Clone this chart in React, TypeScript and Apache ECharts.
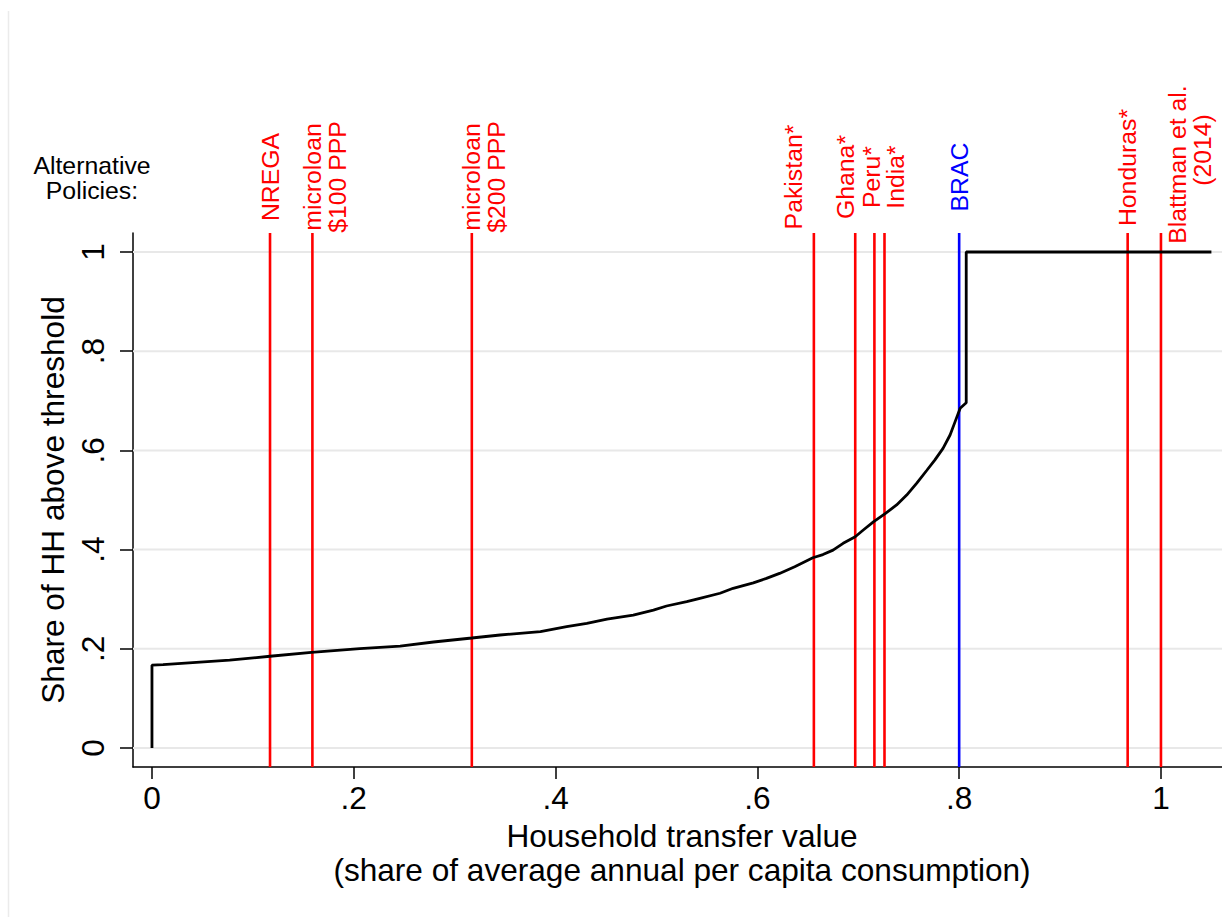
import React, { useEffect, useRef } from 'react';
import * as echarts from 'echarts';

// ---- data ----
const curveX = [0, 0, 0.011, 0.077, 0.117, 0.158, 0.206, 0.246, 0.279, 0.317, 0.345, 0.385, 0.411, 0.431, 0.451, 0.477, 0.497, 0.51, 0.53, 0.543, 0.563, 0.576, 0.596, 0.609, 0.622, 0.637, 0.655, 0.665, 0.675, 0.685, 0.697, 0.705, 0.715, 0.727, 0.738, 0.748, 0.758, 0.768, 0.776, 0.784, 0.791, 0.796, 0.801, 0.807, 0.807, 1.05];
const curveY = [0, 0.167, 0.168, 0.177, 0.185, 0.193, 0.2005, 0.2056, 0.2137, 0.2218, 0.2278, 0.2345, 0.2446, 0.2514, 0.26, 0.268, 0.278, 0.2863, 0.295, 0.3017, 0.312, 0.322, 0.333, 0.342, 0.352, 0.3656, 0.3835, 0.39, 0.399, 0.4126, 0.426, 0.4395, 0.456, 0.473, 0.49, 0.51, 0.534, 0.56, 0.581, 0.604, 0.631, 0.658, 0.685, 0.696, 1.0, 1.0];

const policyValues = [0.117, 0.159, 0.317, 0.656, 0.697, 0.716, 0.726, 0.8, 0.967, 1.0];
const policyLabels = ['NREGA', 'microloan\n$100 PPP', 'microloan\n$200 PPP', 'Pakistan*', 'Ghana*', 'Peru*', 'India*', 'BRAC', 'Honduras*', 'Blattman et al.\n(2014)'];
const policyIsBrac = [false, false, false, false, false, false, false, true, false, false];

const tickValues = [0, 0.2, 0.4, 0.6, 0.8, 1];
const tickLabels = ['0', '.2', '.4', '.6', '.8', '1'];
const gridValues = [0, 0.2, 0.4, 0.6, 0.8, 1];

const xTitle = 'Household transfer value\n(share of average annual per capita consumption)';
const yTitle = 'Share of HH above threshold';
const sideTitle = 'Alternative\nPolicies:';

// ---- layout / style ----
const X_MIN = -0.0188;
const X_MAX = 1.0605;
const Y_MIN = -0.0383;
const Y_MAX = 1.0383;
const FONT = '"Liberation Sans", Arial, Helvetica, sans-serif';
const BIG = 31.6;
const SMALL = 24.8;
const LABEL_GAP = 56; // distance from plot top to label centre
const LABEL_LINE = 25;
// per-label pixel nudges (label placement as in the original figure)
const labelTweaks: Record<number, { dx: number; dy: number[] }> = {
  3: { dx: -20, dy: [0] },
  4: { dx: -10, dy: [0] },
  5: { dx: -2.5, dy: [0] },
  6: { dx: 11, dy: [0] },
  8: { dx: 0, dy: [-9.5] },
  9: { dx: 17, dy: [-12.5, -27] },
};

function fmtTick(v: number): string {
  const i = tickValues.findIndex((t) => Math.abs(t - v) < 1e-9);
  return i >= 0 ? tickLabels[i] : '';
}

export default function App() {
  const ref = useRef<HTMLDivElement>(null);
  useEffect(() => {
    if (!ref.current) return;
    const chart = echarts.init(ref.current, null, { renderer: 'svg' });
    const option: any = {
      animation: false,
      backgroundColor: '#ffffff',
      grid: { left: 133, right: 0, top: 233, bottom: 150, containLabel: false },
      xAxis: {
        type: 'value',
        min: X_MIN,
        max: X_MAX,
        name: xTitle,
        nameLocation: 'middle',
        nameGap: 51,
        nameTextStyle: { color: '#000', fontSize: BIG, fontFamily: FONT, lineHeight: 34, padding: [0, 0, 0, 9] },
        axisLine: { show: true, onZero: false, lineStyle: { color: '#000', width: 1.5 } },
        axisTick: { show: true, customValues: tickValues, length: 12, lineStyle: { color: '#000', width: 1.5 } },
        axisLabel: { show: true, customValues: tickValues, formatter: fmtTick, margin: 15, color: '#000', fontSize: BIG, fontFamily: FONT, lineHeight: 32 },
        splitLine: { show: false },
      },
      yAxis: {
        type: 'value',
        min: Y_MIN,
        max: Y_MAX,
        name: yTitle,
        nameLocation: 'middle',
        nameGap: 42,
        nameTextStyle: { color: '#000', fontSize: BIG, fontFamily: FONT, lineHeight: 32 },
        axisLine: { show: true, onZero: false, lineStyle: { color: '#000', width: 1.5 } },
        axisTick: { show: true, customValues: tickValues, length: 13, lineStyle: { color: '#000', width: 1.5 } },
        axisLabel: { show: true, customValues: tickValues, formatter: fmtTick, rotate: 90, margin: 24, color: '#000', fontSize: BIG, fontFamily: FONT, lineHeight: 32 },
        splitLine: { show: false },
      },
      graphic: [
        {
          type: 'line',
          shape: { x1: 8.5, y1: 11, x2: 8.5, y2: 917 },
          style: { stroke: '#ebebeb', lineWidth: 1.5 },
          silent: true,
        },
        {
          type: 'text',
          x: 92,
          y: 178,
          style: {
            text: sideTitle,
            fill: '#000',
            font: `${SMALL}px ${FONT}`,
            fontSize: SMALL,
            fontFamily: FONT,
            lineHeight: 25,
            align: 'center',
            verticalAlign: 'middle',
            textAlign: 'center',
            textVerticalAlign: 'middle',
          },
          silent: true,
        },
      ],
      series: [
        {
          type: 'custom',
          name: 'grid',
          z: 1,
          silent: true,
          clip: false,
          data: gridValues.map((v) => [X_MIN, v]),
          encode: { x: 0, y: 1 },
          renderItem: (params: any, api: any) => {
            const v = api.value(1);
            const a = api.coord([X_MIN, v]);
            const b = api.coord([X_MAX, v]);
            return {
              type: 'line',
              shape: { x1: a[0], y1: a[1], x2: b[0], y2: b[1] },
              style: { stroke: '#e8e8e8', lineWidth: 2 },
            };
          },
        },
        {
          type: 'custom',
          name: 'policies',
          z: 2,
          silent: true,
          clip: false,
          data: policyValues.map((v) => [v, Y_MAX]),
          encode: { x: 0, y: 1 },
          renderItem: (params: any, api: any) => {
            const i = params.dataIndex;
            const v = api.value(0);
            const top = api.coord([v, Y_MAX]);
            const bot = api.coord([v, Y_MIN]);
            const color = policyIsBrac[i] ? '#0000ff' : '#ff0000';
            const label = policyLabels[i];
            const tw = labelTweaks[i];
            const children: any[] = [
              {
                type: 'line',
                shape: { x1: top[0], y1: top[1], x2: bot[0], y2: bot[1] },
                style: { stroke: color, lineWidth: 2.6 },
              },
            ];
            if (label) {
              label.split('\n').forEach((ln, k) => {
                const dx = tw ? tw.dx : 0;
                const dy = tw && tw.dy[k] !== undefined ? tw.dy[k] : 0;
                children.push({
                  type: 'text',
                  x: top[0] + dx + k * LABEL_LINE,
                  y: top[1] - LABEL_GAP + dy,
                  rotation: Math.PI / 2,
                  style: {
                    text: ln,
                    fill: color,
                    font: `${SMALL}px ${FONT}`,
                    fontSize: SMALL,
                    fontFamily: FONT,
                    align: 'center',
                    verticalAlign: 'middle',
                    textAlign: 'center',
                    textVerticalAlign: 'middle',
                  },
                });
              });
            }
            return { type: 'group', children };
          },
        },
        {
          type: 'line',
          name: 'share',
          z: 3,
          silent: true,
          showSymbol: false,
          symbol: 'none',
          data: curveX.map((x, i) => [x, curveY[i]]),
          lineStyle: { color: '#000', width: 2.8 },
        },
      ],
    };
    chart.setOption(option);
    return () => chart.dispose();
  }, []);
  return <div ref={ref} style={{ position: 'absolute', left: 0, top: 0, width: 1222, height: 917 }} />;
}
